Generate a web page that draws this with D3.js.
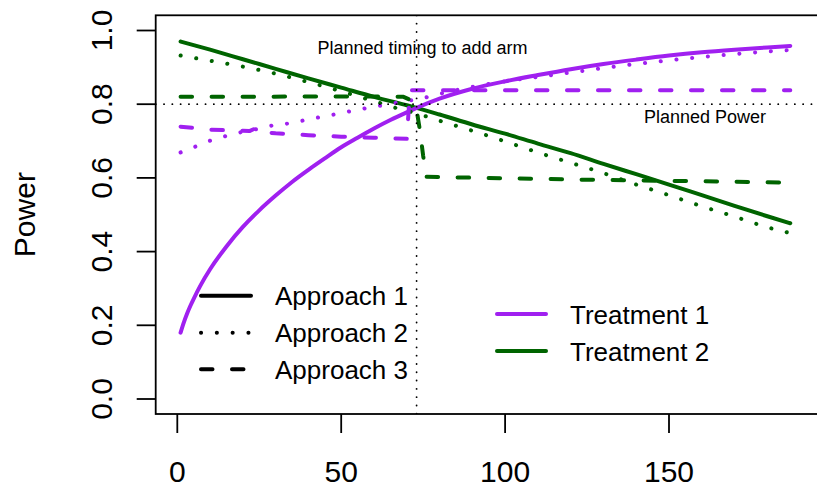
<!DOCTYPE html>
<html><head><meta charset="utf-8">
<script src="https://cdn.jsdelivr.net/npm/d3@7"></script>
<style>body{margin:0;background:#fff} text{font-family:"Liberation Sans",Arial,Helvetica,sans-serif;fill:#000}</style>
</head><body><svg id="c" width="817" height="490"></svg>
<script>
// ---- data ----
const xTicks = [0, 50, 100, 150];
const yTicks = [0, 0.2, 0.4, 0.6, 0.8, 1.0];
const yTickLabels = ["0.0", "0.2", "0.4", "0.6", "0.8", "1.0"];
const plannedTime = 73, plannedPower = 0.8;
const approaches = ["Approach 1", "Approach 2", "Approach 3"];
const treatments = ["Treatment 1", "Treatment 2"];

// Treatment 1 (purple)
const trt1App1 = [[1,0.18],[2,0.208],[3,0.232],[4,0.253],[5,0.272],[7,0.307],[10,0.352],[15,0.414],[20,0.467],[25,0.512],[30,0.552],[35,0.589],[40,0.622],[45,0.653],[50,0.683],[55,0.709],[60,0.734],[65,0.757],[70,0.778],[73,0.79],[80,0.815],[90,0.842],[100,0.862],[110,0.879],[120,0.895],[130,0.909],[140,0.921],[150,0.932],[160,0.941],[170,0.948],[180,0.954],[187,0.958]];
const trt1App2 = [[1,0.669],[5,0.683],[10,0.701],[15,0.714],[20,0.725],[25,0.734],[30,0.744],[35,0.749],[40,0.759],[45,0.767],[50,0.776],[55,0.785],[60,0.793],[65,0.801],[70,0.809],[73,0.813],[77,0.821],[81,0.830],[90,0.847],[100,0.862],[110,0.874],[120,0.886],[130,0.898],[140,0.909],[150,0.919],[160,0.928],[170,0.936],[180,0.943],[187,0.947]];
const trt1App3 = [[1,0.739],[10,0.731],[20,0.728],[22,0.727],[24,0.735],[26,0.724],[30,0.721],[40,0.716],[50,0.712],[60,0.709],[70,0.706],[71,0.838],[100,0.838],[150,0.838],[187,0.838]];
// Treatment 2 (dark green)
const trt2App1 = [[1,0.970],[10,0.948],[20,0.922],[30,0.896],[40,0.870],[50,0.845],[60,0.820],[70,0.797],[73,0.790],[80,0.772],[90,0.745],[100,0.720],[110,0.693],[120,0.667],[130,0.638],[140,0.610],[150,0.582],[160,0.553],[170,0.524],[180,0.496],[187,0.477]];
const trt2App2 = [[1,0.932],[10,0.918],[20,0.902],[30,0.883],[40,0.860],[50,0.835],[60,0.808],[67,0.789],[73,0.775],[80,0.755],[90,0.728],[100,0.699],[110,0.669],[120,0.641],[130,0.613],[140,0.582],[150,0.553],[160,0.523],[170,0.495],[180,0.466],[187,0.45]];
const trt2App3 = [[1,0.820],[20,0.820],[40,0.821],[60,0.821],[69,0.820],[71,0.812],[72,0.800],[73,0.785],[74,0.73],[75,0.66],[76,0.603],[100,0.599],[125,0.595],[150,0.592],[175,0.589],[187,0.587]];

const colT1 = "#A020F0", colT2 = "#006400";
const dashes = ["none", "0.1,15.7", "11.5,19.5"];

// ---- layout ----
const svg = d3.select("#c");
const box = {l:155.7, t:15.3, r:818, b:414};
const x = d3.scaleLinear().domain([0,150]).range([177.3,669]);
const y = d3.scaleLinear().domain([0,1]).range([399,30.5]);

svg.append("clipPath").attr("id","clip").append("rect")
  .attr("x",box.l).attr("y",box.t).attr("width",box.r-box.l).attr("height",box.b-box.t);

const plot = svg.append("g").attr("clip-path","url(#clip)");
const smooth = d3.line().x(d=>x(d[0])).y(d=>y(d[1])).curve(d3.curveMonotoneX);
const straight = d3.line().x(d=>x(d[0])).y(d=>y(d[1]));

const series = [
  {d:trt2App1, c:colT2, a:0},
  {d:trt1App1, c:colT1, a:0},
  {d:trt2App2, c:colT2, a:1},
  {d:trt1App2, c:colT1, a:1},
  {d:trt2App3, c:colT2, a:2},
  {d:trt1App3, c:colT1, a:2}
];
series.forEach(s=>{
  plot.append("path").attr("d",(s.a<2?smooth:straight)(s.d)).attr("fill","none")
    .attr("stroke",s.c).attr("stroke-width",4)
    .attr("stroke-linecap","round").attr("stroke-linejoin","round")
    .attr("stroke-dasharray",dashes[s.a]);
});

// reference lines
plot.append("line").attr("x1",box.l).attr("x2",box.r).attr("y1",y(plannedPower)).attr("y2",y(plannedPower))
  .attr("stroke","#000").attr("stroke-width",1.8).attr("stroke-dasharray","0.1,8.2").attr("stroke-linecap","round");
plot.append("line").attr("x1",x(plannedTime)).attr("x2",x(plannedTime)).attr("y1",box.t).attr("y2",box.b)
  .attr("stroke","#000").attr("stroke-width",1.8).attr("stroke-dasharray","0.1,8.2").attr("stroke-linecap","round");

svg.append("text").attr("x",x(74.8)).attr("y",y(0.954)).attr("dy","0.35em")
  .attr("text-anchor","middle").attr("font-size",18).text("Planned timing to add arm");
svg.append("text").attr("x",x(161)).attr("y",y(0.765)).attr("dy","0.35em")
  .attr("text-anchor","middle").attr("font-size",18).text("Planned Power");

// box
svg.append("rect").attr("x",box.l).attr("y",box.t).attr("width",box.r-box.l).attr("height",box.b-box.t)
  .attr("fill","none").attr("stroke","#000").attr("stroke-width",1.8);

// axes
const xAxis = svg.append("g");
xAxis.selectAll("line").data(xTicks).join("line")
  .attr("x1",d=>x(d)).attr("x2",d=>x(d)).attr("y1",box.b).attr("y2",box.b+19)
  .attr("stroke","#000").attr("stroke-width",1.8);
xAxis.selectAll("text").data(xTicks).join("text")
  .attr("x",d=>x(d)).attr("y",482).attr("text-anchor","middle").attr("font-size",30).text(d=>d);

const yAxis = svg.append("g");
yAxis.selectAll("line").data(yTicks).join("line")
  .attr("x1",box.l-19).attr("x2",box.l).attr("y1",d=>y(d)).attr("y2",d=>y(d))
  .attr("stroke","#000").attr("stroke-width",1.8);
yAxis.selectAll("text").data(yTicks).join("text")
  .attr("transform",d=>`translate(112,${y(d)}) rotate(-90)`)
  .attr("text-anchor","middle").attr("font-size",30).text((d,i)=>yTickLabels[i]);

svg.append("text").attr("transform",`translate(35,${(box.t+box.b)/2}) rotate(-90)`)
  .attr("text-anchor","middle").attr("font-size",30).text("Power");

// legend 1: approaches
const leg1Y = [295.7, 332.7, 369.3];
approaches.forEach((a,i)=>{
  svg.append("line").attr("x1",201).attr("x2",251).attr("y1",leg1Y[i]).attr("y2",leg1Y[i])
    .attr("stroke","#000").attr("stroke-width",4).attr("stroke-linecap","round")
    .attr("stroke-dasharray",dashes[i]);
  svg.append("text").attr("x",275).attr("y",leg1Y[i]+9.3).attr("font-size",26).text(a);
});
// legend 2: treatments
const leg2Y = [314, 351];
const legCols = [colT1, colT2];
treatments.forEach((t,i)=>{
  svg.append("line").attr("x1",497).attr("x2",546).attr("y1",leg2Y[i]).attr("y2",leg2Y[i])
    .attr("stroke",legCols[i]).attr("stroke-width",4).attr("stroke-linecap","round");
  svg.append("text").attr("x",570).attr("y",leg2Y[i]+9.5).attr("font-size",26).text(t);
});
</script></body></html>
